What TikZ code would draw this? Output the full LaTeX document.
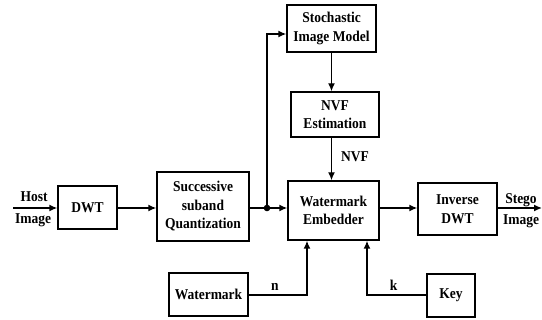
\documentclass[tikz,border=0pt]{standalone}
\usepackage{fontspec}
\setmainfont{Liberation Serif}[FakeStretch=0.9]
\usetikzlibrary{arrows.meta}
\begin{document}
\begin{tikzpicture}[x=1pt,y=-1pt,
  blk/.style={draw,line width=1.4pt,inner sep=0pt,align=center,
    font=\fontsize{15}{18.5}\selectfont\bfseries},
  lbl/.style={inner sep=0pt,font=\fontsize{15}{16}\selectfont\bfseries},
  conn/.style={line width=1.4pt},
  arr/.style={line width=1.4pt,-{Latex[length=8pt,width=7pt]}}]
\useasboundingbox (0,0) rectangle (542,320);
\node[blk,minimum width=59pt,minimum height=43pt] (dwt) at (87.5,207.5) {DWT};
\node[blk,minimum width=92pt,minimum height=69pt] (ssq) at (203,206.5) {Successive\\suband\\Quantization};
\node[blk,minimum width=89pt,minimum height=47pt] (sim) at (331.5,28.5) {Stochastic\\Image Model};
\node[blk,minimum width=88pt,minimum height=45pt] (nvf) at (335,114.5) {NVF\\Estimation};
\node[blk,minimum width=91pt,minimum height=59pt] (emb) at (333.5,210.5) {Watermark\\Embedder};
\node[blk,minimum width=79pt,minimum height=52pt] (inv) at (457.5,209) {Inverse\\DWT};
\node[blk,minimum width=79pt,minimum height=43pt] (wm) at (208.5,294.5) {Watermark};
\node[blk,minimum width=48pt,minimum height=43pt] (key) at (451,295.5) {Key};
\coordinate (in) at (13,208);
\coordinate (out) at (542,208);
\coordinate (dot) at (267,208);
\coordinate (top) at (267,34);
\coordinate (nx) at (307,295);
\coordinate (kx) at (367,295);
\node[lbl] (host) at (34,197) {Host};
\node[lbl] (himg) at (33,220) {Image};
\node[lbl] (stego) at (521,200) {Stego};
\node[lbl] (simg) at (521,221) {Image};
\draw[arr] (in) -- (in -| dwt.west);
\draw[arr] (dwt.east |- in) -- (ssq.west |- in);
\draw[conn] (ssq.east |- dot) -- (dot);
\fill (dot) circle (3.3pt);
\draw[arr] (dot) -- (emb.west |- dot);
\draw[arr] (dot) -- (top) -- (sim.west |- top);
\draw[arr] (sim.south) -- (sim.south |- nvf.north);
\draw[arr] (sim.south |- nvf.south) -- node[lbl,right=9pt,pos=0.45] (nvflbl) {NVF} (sim.south |- emb.north);
\draw[arr] (emb.east |- dot) -- (inv.west |- dot);
\draw[arr] (inv.east |- dot) -- (out);
\draw[arr] (wm.east |- nx) -- node[lbl,above=4pt,pos=0.45] (nlbl) {n} (nx) -- (nx |- emb.south);
\draw[arr] (key.west |- kx) -- node[lbl,above=4pt,pos=0.55] (klbl) {k} (kx) -- (kx |- emb.south);
\end{tikzpicture}
\end{document}
